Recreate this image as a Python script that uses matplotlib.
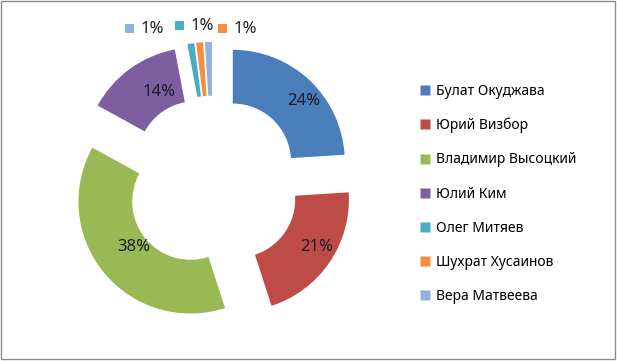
import matplotlib
matplotlib.use("Agg")
import matplotlib.pyplot as plt
from matplotlib.patches import Rectangle
from matplotlib.lines import Line2D
import numpy as np

plt.rcParams['font.family'] = ['Noto Sans', 'DejaVu Sans']

names = ["Булат Окуджава", "Юрий Визбор", "Владимир Высоцкий", "Юлий Ким",
         "Олег Митяев", "Шухрат Хусаинов", "Вера Матвеева"]
shares = [24, 21, 38, 14, 1, 1, 1]
colors = ["#4A7EBB", "#BE4B48", "#98B954", "#7D5FA0", "#4AACC5", "#F38F3F", "#94B1D8"]

fig = plt.figure(figsize=(6.17, 3.61), dpi=100)
fig.patches.append(Rectangle((0.002, 0.006), 0.994, 0.99, transform=fig.transFigure,
                             fill=False, edgecolor="#8c8c8c", linewidth=1))

ax = fig.add_axes([0.102, 0.0776, 0.486, 0.831])
wedges, _ = ax.pie(shares, colors=colors, startangle=90, counterclock=False,
                   explode=[0.26] * len(shares), radius=1.0,
                   wedgeprops=dict(width=0.48, linewidth=0))
ax.set_xlim(-1.339, 1.339)
ax.set_ylim(-1.339, 1.339)
ax.set_aspect('equal')
ax.axis('off')

# inner labels for the large shares (radius and angular nudge per label)
label_r = [1.09, 1.09, 0.905, 0.94]
label_dang = [-4.8, 2.7, -0.6, -5.3]
for w, v, r, da in zip(wedges[:4], shares[:4], label_r, label_dang):
    th = np.deg2rad((w.theta1 + w.theta2) / 2 + da)
    ax.text(r * np.cos(th), r * np.sin(th), f"{v}%", ha='center', va='center',
            fontsize=12, color='#1c1c24')

# small-share labels with legend keys, above the ring
key_px = {6: (129, 28), 4: (179, 25), 5: (222, 28)}
for idx, (px, py) in key_px.items():
    fx, fy = px / 617, 1 - py / 361
    fig.patches.append(Rectangle((fx - 4.5 / 617, fy - 4.5 / 361), 9 / 617, 9 / 361,
                                 transform=fig.transFigure, facecolor=colors[idx],
                                 edgecolor='none'))
    fig.text(fx + 12 / 617, fy - 1 / 361, f"{shares[idx]}%", ha='left', va='center',
             fontsize=12, color='#1c1c24')

handles = [Line2D([0], [0], marker='s', linestyle='none', markersize=6.5,
                  markerfacecolor=c, markeredgecolor='none') for c in colors]
fig.legend(handles, names, loc='center left', bbox_to_anchor=(0.668, 0.463),
           frameon=False, fontsize=10, labelspacing=1.38, handlelength=0.8,
           handletextpad=0.4, borderpad=0)

fig.savefig("out.png", dpi=100)
